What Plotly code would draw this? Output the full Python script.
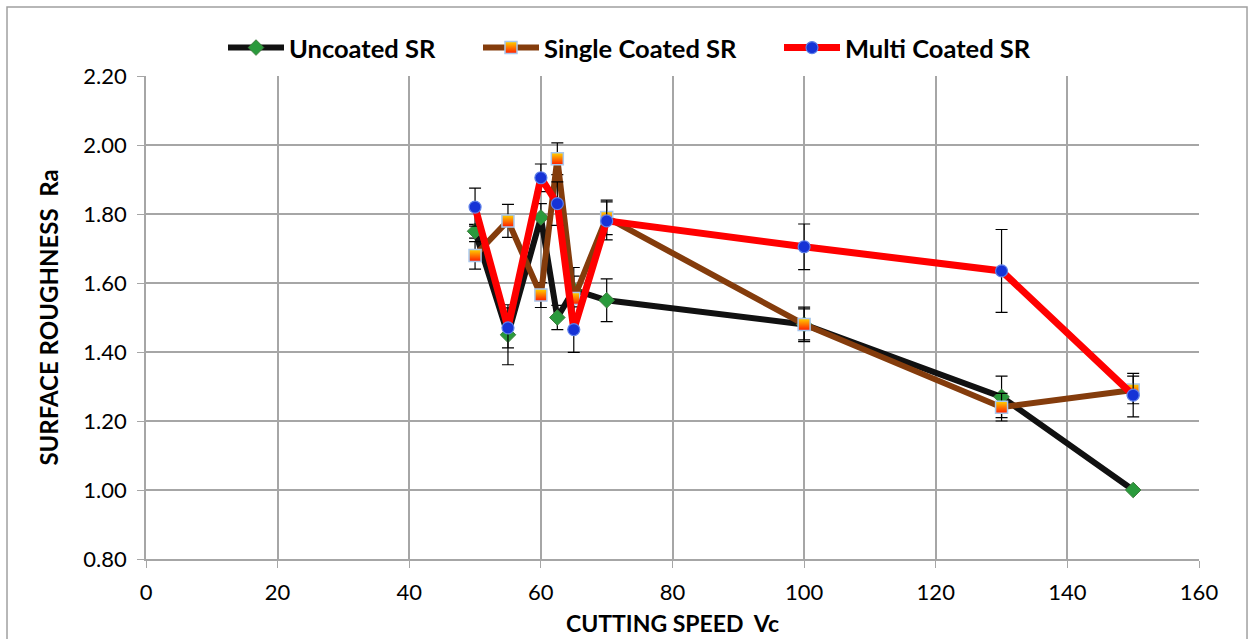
import plotly.graph_objects as go

speed = [50, 55, 60, 62.5, 65, 70, 100, 130, 150]

uncoated = [1.75, 1.45, 1.79, 1.50, 1.58, 1.55, 1.48, 1.27, 1.00]
uncoated_err = [0.02, 0.087, 0.04, 0.035, 0.04, 0.062, 0.045, 0.06, 0.0]

single = [1.68, 1.78, 1.565, 1.96, 1.555, 1.79, 1.48, 1.24, 1.29]
single_err = [0.04, 0.048, 0.036, 0.046, 0.09, 0.05, 0.05, 0.04, 0.04]

multi = [1.82, 1.47, 1.905, 1.83, 1.465, 1.78, 1.705, 1.635, 1.275]
multi_err = [0.055, 0.058, 0.04, 0.063, 0.066, 0.055, 0.066, 0.12, 0.063]

x_ticks = [0, 20, 40, 60, 80, 100, 120, 140, 160]
y_ticks = [0.80, 1.00, 1.20, 1.40, 1.60, 1.80, 2.00, 2.20]

FONT = "Lato"
err_style = dict(type="data", visible=True, color="black", thickness=1.2, width=6)

fig = go.Figure()
fig.add_trace(go.Scatter(
    x=speed, y=uncoated, name="Uncoated SR", mode="lines+markers", legend="legend",
    line=dict(color="#111111", width=6),
    marker=dict(symbol="diamond", size=12, color="#2a9a3c", line=dict(color="#3f7f3f", width=1)),
    error_y=dict(array=uncoated_err, **err_style),
))
fig.add_trace(go.Scatter(
    x=speed, y=single, name="Single Coated SR", mode="lines+markers", legend="legend2",
    line=dict(color="#843c0c", width=6),
    marker=dict(symbol="square", size=12, color="#ffd500",
                gradient=dict(type="vertical", color="#ff1a00"),
                line=dict(color="#a8c8ee", width=1.5)),
    error_y=dict(array=single_err, **err_style),
))
fig.add_trace(go.Scatter(
    x=speed, y=multi, name="Multi Coated SR", mode="lines+markers", legend="legend3",
    line=dict(color="#ff0000", width=7),
    marker=dict(symbol="circle", size=12, color="#1633d6", line=dict(color="#5d7fe8", width=1.2)),
    error_y=dict(array=multi_err, **err_style),
))

leg_common = dict(orientation="h", xanchor="left", y=1.058, yanchor="middle",
                  font=dict(family=FONT, size=25.5, color="black", weight="bold"),
                  itemwidth=56, bgcolor="rgba(0,0,0,0)")

fig.update_layout(
    width=1252, height=639,
    margin=dict(l=146, r=53, t=76, b=80, autoexpand=False),
    paper_bgcolor="white", plot_bgcolor="white",
    font=dict(family=FONT, size=22, color="black"),
    showlegend=True,
    legend=dict(x=(223 - 146) / 1053, **leg_common),
    legend2=dict(x=(478 - 146) / 1053, **leg_common),
    legend3=dict(x=(779 - 146) / 1053, **leg_common),
    shapes=[dict(type="rect", xref="paper", yref="paper",
                 x0=-0.132, x1=1.0456, y0=-0.2, y1=1.143,
                 line=dict(color="#a0a0a0", width=1.5), layer="below")],
)
fig.update_xaxes(
    range=[0, 160], tickvals=x_ticks, ticktext=[str(v) for v in x_ticks],
    automargin=False,
    showgrid=True, gridcolor="#a6a6a6", gridwidth=1.5,
    showline=True, linecolor="#a6a6a6", linewidth=1.5,
    ticks="outside", ticklen=7, tickcolor="#a6a6a6", ticklabelstandoff=6,
    zeroline=False, tickfont=dict(family=FONT, size=22),
    title=dict(text="<b>CUTTING SPEED  Vc</b>", font=dict(family=FONT, size=23), standoff=12),
)
fig.update_yaxes(
    range=[0.80, 2.20], tickvals=y_ticks, ticktext=[f"{v:.2f}" for v in y_ticks],
    automargin=False,
    showgrid=True, gridcolor="#a6a6a6", gridwidth=1.5,
    showline=True, linecolor="#a6a6a6", linewidth=1.5,
    ticks="outside", ticklen=7, tickcolor="#a6a6a6", ticklabelstandoff=6,
    zeroline=False, tickfont=dict(family=FONT, size=22),
    title=dict(text="<b>SURFACE ROUGHNESS  Ra</b>", font=dict(family=FONT, size=24), standoff=18),
)

fig.write_html("out.html")
